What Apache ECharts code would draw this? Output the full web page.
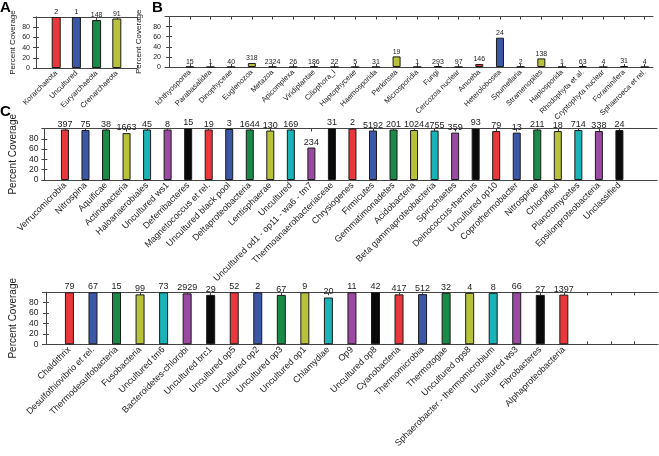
<!DOCTYPE html>
<html>
<head>
<meta charset="utf-8">
<script src="https://cdn.jsdelivr.net/npm/echarts@6/dist/echarts.min.js"></script>
<style>
html,body{margin:0;padding:0;background:#fff;}
#chart{width:659px;height:456px;}
</style>
</head>
<body>
<div id="chart"></div>
<script>
// ---- Panel A (Archaea)
const aCategories = ['Korarchaeota', 'Uncultured', 'Euryarchaeota', 'Crenarchaeota'];
const aValues = [100, 100, 94, 97];
const aCounts = ['2', '1', '148', '91'];

// ---- Panel B (Eukaryota)
const bCategories = ['Ichthyosporea', 'Parabasalidea', 'Dinophyceae', 'Euglenozoa', 'Metazoa', 'Apicomplexa',
  'Viridiplantae', 'Ciliophora_I', 'Haptophyceae', 'Haemosporida', 'Perkinsea', 'Microsporidia', 'Fungi',
  'Cercozoa nuclear', 'Amoeba', 'Heterolobosea', 'Spumellaria', 'Stramenopiles', 'Haplosporida',
  'Rhodophyta et al.', 'Cryptophyta nuclear', 'Foraminifera', 'Sphaeroeca et rel.'];
const bValues = [0.5, 0, 0, 8, 0.5, 0, 0.5, 0, 0, 0, 21, 0, 1.5, 0, 6, 58, 0.5, 17, 0, 1.5, 0, 2, 0];
const bCounts = ['15', '1', '40', '318', '2324', '26', '186', '22', '5', '31', '19', '1', '293', '97', '146',
  '24', '2', '138', '1', '63', '4', '31', '4'];

// ---- Panel C, first row (Bacteria)
const c1Categories = ['Verrucomicrobia', 'Nitrospina', 'Aquificae', 'Actinobacteria', 'Haloanaerobiales',
  'Uncultured ws1', 'Deferribacteres', 'Magnetococcus et rel.', 'Uncultured black pool', 'Deltaproteobacteria',
  'Lentisphaerae', 'Uncultured', 'Uncultured od1 - op11 - wa6 - tm7', 'Thermoanaerobacteriaceae', 'Chrysiogenes',
  'Firmicutes', 'Gemmatimonadetes', 'Acidobacteria', 'Beta gammaproteobacteria', 'Spirochaetes',
  'Deinococcus-thermus', 'Uncultured op10', 'Coprothermobacter', 'Nitrospirae', 'Chloroflexi',
  'Planctomycetes', 'Epsilonproteobacteria', 'Unclassified'];
const c1Values = [98, 97, 98, 91, 98, 98, 100, 98, 99, 98, 96, 98, 63, 100, 100, 96, 98, 97, 96, 92,
  100, 95, 92, 98, 95, 97, 95, 97];
const c1Counts = ['397', '75', '38', '1663', '45', '8', '15', '19', '3', '1644', '130', '169', '234', '31', '2',
  '5192', '201', '1024', '4755', '359', '93', '79', '13', '211', '18', '714', '338', '24'];

// ---- Panel C, second row (Bacteria)
const c2Categories = ['Chaldithrix', 'Desulfothiovibrio et rel.', 'Thermodesulfobacteria', 'Fusobacteria',
  'Uncultured tm6', 'Bacteroidetes-chlorobi', 'Uncultured brc1', 'Uncultured op5', 'Uncultured op2',
  'Uncultured op3', 'Uncultured op1', 'Chlamydiae', 'Op9', 'Uncultured op8', 'Cyanobacteria', 'Thermomicrobia',
  'Thermotogae', 'Uncultured ops8', 'Sphaerobacter - thermomicrobium', 'Uncultured ws3', 'Fibrobacteres',
  'Alphaproteobacteria'];
const c2Values = [100, 100, 100, 96, 100, 98, 95, 100, 100, 95, 100, 90, 100, 100, 96, 96.5, 99, 99, 99,
  100, 95, 95.5];
const c2Counts = ['79', '67', '15', '99', '73', '2929', '29', '52', '2', '67', '9', '20', '11', '42', '417',
  '512', '32', '4', '8', '66', '27', '1397'];

const palette = ['#e8383c', '#3a57a8', '#1a8a48', '#b7c23a', '#1ab3b8', '#9a4aa0', '#0a0a0a'];

const FONT = 'Liberation Sans, Arial, Helvetica, sans-serif';
const AXIS_COLOR = '#444';
const TEXT_COLOR = '#222';

const grids = [], xAxes = [], yAxes = [], series = [];

function range(a, b) { const r = []; for (let i = a; i <= b; i++) r.push(i); return r; }

function addPanel(cats, vals, counts, box, xmin, xmax, tickMax, f, nameGap, barW) {
  const g = grids.length;
  grids.push({ left: box[0], top: box[1], width: box[2], height: box[3], containLabel: false });
  const labelVals = range(1, cats.length);
  const tickVals = range(0, tickMax);
  const common = {
    type: 'value', gridIndex: g, min: xmin, max: xmax,
    axisLine: { show: true, onZero: false, lineStyle: { color: AXIS_COLOR, width: 1 } },
    axisTick: { show: true, inside: true, length: 3, customValues: tickVals, lineStyle: { color: AXIS_COLOR } },
    splitLine: { show: false }
  };
  xAxes.push(Object.assign({}, common, {
    position: 'bottom',
    axisLabel: {
      show: true, rotate: 45, fontSize: f.cat, fontFamily: FONT, color: TEXT_COLOR, margin: 4,
      customValues: labelVals,
      formatter: v => cats[Math.round(v) - 1] || ''
    }
  }));
  xAxes.push(Object.assign({}, common, {
    position: 'top',
    axisLabel: { show: false }
  }));
  const ycommon = {
    type: 'value', gridIndex: g, min: 0, max: 100, interval: 20,
    axisLine: { show: true, lineStyle: { color: AXIS_COLOR, width: 1 } },
    axisTick: { show: true, inside: true, length: 3, lineStyle: { color: AXIS_COLOR } },
    splitLine: { show: false }
  };
  yAxes.push(Object.assign({}, ycommon, {
    position: 'left',
    name: 'Percent Coverage', nameLocation: 'middle', nameGap: nameGap,
    nameTextStyle: { fontSize: f.name, fontFamily: FONT, color: TEXT_COLOR },
    axisLabel: {
      show: true, fontSize: f.tick, fontFamily: FONT, color: TEXT_COLOR, margin: 4,
      showMaxLabel: false, formatter: v => (v === 100 ? '' : String(v))
    }
  }));
  yAxes.push(Object.assign({}, ycommon, {
    position: 'right',
    axisLabel: { show: false }
  }));
  series.push({
    type: 'bar',
    xAxisIndex: 2 * g, yAxisIndex: 2 * g,
    barWidth: barW,
    data: vals.map((v, i) => ({
      value: [i + 1, v],
      itemStyle: { color: palette[i % palette.length] }
    })),
    itemStyle: { borderColor: '#1a1a1a', borderWidth: 1 },
    label: {
      show: true, position: 'top', distance: 1,
      fontSize: f.val, fontFamily: FONT, color: TEXT_COLOR,
      formatter: p => counts[p.dataIndex]
    },
    silent: true,
    animation: false
  });
}

const smallFonts = { cat: 7.5, tick: 7, val: 7, name: 8 };
const largeFonts = { cat: 9, tick: 8.5, val: 9, name: 10 };

addPanel(aCategories, aValues, aCounts, [34, 17, 103, 51], -0.1, 5, 5, smallFonts, 17, 9);
addPanel(bCategories, bValues, bCounts, [165, 16.5, 488, 50.5], -0.2, 23.4, 23, smallFonts, 15, 8);
addPanel(c1Categories, c1Values, c1Counts, [36, 128.5, 621, 51.5], -0.1, 29.83, 28, largeFonts, 17, 8);
addPanel(c2Categories, c2Values, c2Counts, [37, 292.3, 621, 52], -0.15, 26, 25, largeFonts, 17, 9);

const chart = echarts.init(document.getElementById('chart'), null, { renderer: 'canvas' });
chart.setOption({
  animation: false,
  backgroundColor: '#fff',
  grid: grids,
  xAxis: xAxes,
  yAxis: yAxes,
  series: series,
  graphic: [
    { type: 'text', left: 0, top: 0, style: { text: 'A', font: 'bold 15px ' + FONT, fill: '#000' } },
    { type: 'text', left: 152, top: 0, style: { text: 'B', font: 'bold 15px ' + FONT, fill: '#000' } },
    { type: 'text', left: 0, top: 104, style: { text: 'C', font: 'bold 15px ' + FONT, fill: '#000' } }
  ]
});
</script>
</body>
</html>
